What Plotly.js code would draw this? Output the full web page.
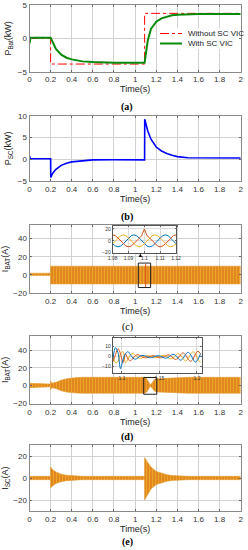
<!DOCTYPE html>
<html><head><meta charset="utf-8">
<script src="https://cdn.plot.ly/plotly-3.0.1.min.js"></script>
<style>html,body{margin:0;padding:0;background:#fff;} #chart{width:248px;height:550px;}</style>
</head><body><div id="chart"></div>
<script>
// ---------------- data ----------------
const timeTicks = [0, 0.2, 0.4, 0.6, 0.8, 1, 1.2, 1.4, 1.6, 1.8, 2];
const timeTickText = ['0', '0.2', '0.4', '0.6', '0.8', '1', '1.2', '1.4', '1.6', '1.8', '2'];

// (a) battery power, kW
const seriesNames = ['Without SC VIC', 'With SC VIC'];
const pbatNoVicT = [0, 0.2, 0.2, 1.09, 1.09, 2.0];
const pbatNoVic  = [0, 0, -3.85, -3.85, 3.75, 3.75];
const pbatVicT = [0, 0.003, 0.01, 0.2, 0.22, 0.25, 0.3, 0.35, 0.4, 0.45, 0.5, 0.6, 0.7, 0.8, 1.09, 1.1, 1.12, 1.15, 1.2, 1.25, 1.3, 1.35, 1.4, 1.5, 1.6, 2.0];
const pbatVic  = [-0.8, -0.3, 0.1, 0.1, -0.7, -1.6, -2.45, -2.9, -3.15, -3.35, -3.45, -3.55, -3.62, -3.65, -3.65, -2.2, -0.3, 1.4, 2.5, 3.0, 3.26, 3.45, 3.55, 3.62, 3.65, 3.65];

// (b) supercapacitor power, kW
const pscT = [0, 0.003, 0.01, 0.2, 0.201, 0.22, 0.25, 0.3, 0.35, 0.4, 0.5, 0.6, 0.8, 1.09, 1.091, 1.12, 1.15, 1.2, 1.25, 1.3, 1.35, 1.4, 1.5, 1.7, 2.0];
const psc  = [0.7, 0.2, 0.1, 0.1, -4.2, -3.2, -2.3, -1.4, -0.9, -0.6, -0.3, -0.15, -0.1, -0.15, 9.2, 6.5, 4.6, 2.8, 1.9, 1.3, 0.9, 0.6, 0.35, 0.3, 0.3];

// (c) battery current envelope (without SC VIC), A
const ibatC_T  = [0, 0.199, 0.2, 2.0];
const ibatC_Up = [1.8, 1.8, 9.5, 9.5];
const ibatC_Lo = [-0.6, -0.6, -10, -10];
const ibatC_spikeT = [0, 0];
const ibatC_spikeRed = [0, 52];
const ibatC_spikeYel = [0, -18];
const ibatC_eventT = [1.1, 1.1];
const ibatC_event  = [12, -14];

// (c) inset: three-phase currents 1.08-1.12 s
const insetC_T = [1.08, 1.0817, 1.0833, 1.085, 1.0867, 1.0883, 1.09, 1.0917, 1.0933, 1.095, 1.0967, 1.0983, 1.1, 1.1017, 1.1033, 1.105, 1.1067, 1.1083, 1.11, 1.1117, 1.1133, 1.115, 1.1167, 1.1183, 1.12];
const insetC_Red = [10, 8.7, 5, 0, -5, -8.7, -10, -8.7, -5, 0, 5, 8.7, 20, 8.7, 5, 0, -5, -8.7, -10, -8.7, -5, 0, 5, 8.7, 10];
const insetC_Blue = [-5, -8.7, -10, -8.7, -5, 0, 5, 8.7, 10, 8.7, 5, 0, -5, -8.7, -10, -8.7, -5, 0, 5, 8.7, 10, 8.7, 5, 0, -5];
const insetC_Yel = [-5, 0, 5, 8.7, 10, 8.7, 5, 0, -5, -8.7, -10, -8.7, -5, 0, 5, 8.7, 10, 8.7, 5, 0, -5, -8.7, -10, -8.7, -5];

// (d) battery current envelope (with SC VIC), A
const ibatD_T  = [0, 0.1, 0.199, 0.2, 0.21, 0.25, 0.3, 0.35, 0.4, 0.45, 0.5, 1.09, 1.11, 1.13, 1.145, 1.16, 1.18, 1.2, 1.3, 1.4, 1.5, 2.0];
const ibatD_Up = [2.5, 2, 1.5, 5, 2.5, 3.5, 6, 7.5, 8.5, 9, 9.2, 9.2, 7.5, 3, 0.5, 3, 6, 7.5, 8.3, 8.8, 9.2, 9.2];
const ibatD_Lo = [-2.5, -2, -1.5, -5, -2.5, -3.5, -6, -7.5, -8.3, -8.7, -8.8, -8.8, -7.5, -3, -0.5, -3, -6, -7.3, -8, -8.5, -8.8, -8.8];
const ibatD_spikeT = [0, 0];
const ibatD_spikeRed = [0, 23];
const ibatD_spikeYel = [0, -20];

// (d) inset: three-phase currents 1.088-1.205 s
const insetD_T = [1.088, 1.0913, 1.0947, 1.098, 1.1013, 1.1047, 1.108, 1.1113, 1.1147, 1.118, 1.1213, 1.1247, 1.128, 1.1313, 1.1347, 1.138, 1.1413, 1.1447, 1.148, 1.1513, 1.1547, 1.158, 1.1613, 1.1647, 1.168, 1.1713, 1.1747, 1.178, 1.1813, 1.1847, 1.188, 1.1913, 1.1947, 1.198, 1.2013, 1.2047];
const insetD_Red = [-5, 2, 8, 3, -6, 3, -2.5, -4, -1.5, 1.25, 2, 0.8, -0.65, -1.1, -0.5, 0.5, 1, 0.5, -0.5, -1.1, -0.65, 0.75, 1.8, 1.05, -1.2, -2.8, -1.55, 1.75, 3.8, 2.05, -2.2, -4.7, -2.5, 2.65, 5.5, 2.9];
const insetD_Blue = [-2, 9, 4, -12, -3, 3, 5, 2, -1.5, -2.5, -1, 0.8, 1.3, 0.55, -0.5, -1, -0.5, 0.5, 1, 0.55, -0.65, -1.5, -0.9, 1.05, 2.4, 1.4, -1.55, -3.5, -1.9, 2.05, 4.4, 2.35, -2.5, -5.3, -2.75, 2.9];
const insetD_Yel = [4, -6, -5, 3, 5, -6, -2.5, 2, 3, 1.25, -1, -1.6, -0.65, 0.55, 1, 0.5, -0.5, -1, -0.5, 0.55, 1.3, 0.75, -0.9, -2.1, -1.2, 1.4, 3.1, 1.75, -1.9, -4.1, -2.2, 2.35, 5, 2.65, -2.75, -5.8];

// (e) supercapacitor current envelope, A
const iscE_T  = [0, 0.199, 0.2, 0.22, 0.25, 0.3, 0.35, 0.4, 0.45, 0.5, 1.089, 1.09, 1.12, 1.15, 1.2, 1.25, 1.3, 1.35, 1.4, 1.45, 1.5, 2.0];
const iscE_Up = [1.5, 1.5, 10, 7.5, 5.5, 3.5, 2.5, 2, 1.6, 1.5, 1.5, 18.5, 14, 10, 6, 4.3, 3, 2.2, 1.8, 1.6, 1.5, 1.5];
const iscE_Lo = [-1.5, -1.5, -9, -7, -5, -3.3, -2.4, -1.9, -1.6, -1.5, -1.5, -20, -15, -10, -6, -4.3, -3, -2.2, -1.8, -1.6, -1.5, -1.5];
const iscE_spikeT = [0, 0];
const iscE_spikeRed = [0, 23];
const iscE_spikeYel = [0, -23];

// zoom windows [x0, x1, y0, y1] and arrows [x, yTail, yHead]
const zoomBoxC = [1.03, 1.147, -14, 13];
const zoomBoxD = [1.081, 1.205, -10, 9];
const arrowC = [1.05, 13, 23.5];
const arrowD = [1.144, 9, 15];

// ---------------- styling ----------------
const W = 248, H = 550;
const C_BLUE = '#0072BD', C_RED = '#D95319', C_YEL = '#EDB120';
const C_NOVIC = '#FF0000', C_VIC = '#0A8A0A';
const FONT = 'Liberation Sans, Arial, sans-serif';
const tickFont = {family: FONT, size: 8, color: '#333'};
const titleFont = {family: FONT, size: 9, color: '#222'};
const xDom = [0.119, 0.9706];

function mainX(anchor, dom, tv, tt) {
  return {domain: dom, anchor: anchor, range: [0, 2], tickvals: tv, ticktext: tt,
    ticks: 'inside', ticklen: 2, tickcolor: '#666', showline: true, mirror: 'ticks',
    linecolor: '#8a8a8a', linewidth: 1, showgrid: true, gridcolor: '#d2d2d2', gridwidth: 1,
    zeroline: false, tickfont: tickFont, fixedrange: true,
    title: {text: 'Time(s)', font: titleFont, standoff: 1}};
}
function mainY(anchor, dom, range, tv, title) {
  return {domain: dom, anchor: anchor, range: range, tickvals: tv,
    ticks: 'inside', ticklen: 2, tickcolor: '#666', showline: true, mirror: 'ticks',
    linecolor: '#8a8a8a', linewidth: 1, showgrid: true, gridcolor: '#d2d2d2', gridwidth: 1,
    zeroline: false, tickfont: tickFont, fixedrange: true,
    title: {text: title, font: titleFont, standoff: 4}};
}
function insetAxis(anchor, dom, range, tv, tt) {
  const a = {domain: dom, anchor: anchor, range: range, tickvals: tv,
    ticks: 'inside', ticklen: 1.5, tickcolor: '#666', showline: true, mirror: 'ticks',
    linecolor: '#555', linewidth: 1, showgrid: true, gridcolor: '#dcdcdc', gridwidth: 1,
    zeroline: false, tickfont: {family: FONT, size: 5, color: '#333'}, fixedrange: true};
  if (tt) a.ticktext = tt;
  return a;
}

function line(x, y, xa, ya, color, width, extra) {
  return Object.assign({type: 'scatter', mode: 'lines', x: x, y: y, xaxis: xa, yaxis: ya,
    line: {color: color, width: width}, showlegend: false, hoverinfo: 'skip'}, extra || {});
}
function band(t, lo, up, xa, ya) {
  return [
    line(t, lo, xa, ya, '#E39A2C', 0.6),
    line(t, up, xa, ya, '#E39A2C', 0.6, {fill: 'tonexty', fillcolor: '#EDA52A',
      fillpattern: {shape: '|', fgcolor: '#D8681C', bgcolor: '#EFB226', size: 3, solidity: 0.45}})
  ];
}

const traces = [];
// (a)
traces.push(line(pbatNoVicT, pbatNoVic, 'x', 'y', C_NOVIC, 1, {name: seriesNames[0], line: {color: C_NOVIC, width: 1, dash: 'dashdot'}}));
traces.push(line(pbatVicT, pbatVic, 'x', 'y', C_VIC, 2, {name: seriesNames[1]}));
// (b)
traces.push(line(pscT, psc, 'x2', 'y2', '#0000FF', 1.6));
// (c)
traces.push(...band(ibatC_T, ibatC_Lo, ibatC_Up, 'x3', 'y3'));
traces.push(line(ibatC_spikeT, ibatC_spikeRed, 'x3', 'y3', C_RED, 1));
traces.push(line(ibatC_spikeT, ibatC_spikeYel, 'x3', 'y3', C_YEL, 1));
traces.push(line(ibatC_eventT, ibatC_event, 'x3', 'y3', C_RED, 1));
// (d)
traces.push(...band(ibatD_T, ibatD_Lo, ibatD_Up, 'x4', 'y4'));
traces.push(line(ibatD_spikeT, ibatD_spikeRed, 'x4', 'y4', C_RED, 1));
traces.push(line(ibatD_spikeT, ibatD_spikeYel, 'x4', 'y4', C_YEL, 1));
// (e)
traces.push(...band(iscE_T, iscE_Lo, iscE_Up, 'x5', 'y5'));
traces.push(line(iscE_spikeT, iscE_spikeRed, 'x5', 'y5', C_RED, 1));
traces.push(line(iscE_spikeT, iscE_spikeYel, 'x5', 'y5', C_YEL, 1));
// inset (c)
traces.push(line(insetC_T, insetC_Blue, 'x6', 'y6', C_BLUE, 1));
traces.push(line(insetC_T, insetC_Yel, 'x6', 'y6', C_YEL, 1));
traces.push(line(insetC_T, insetC_Red, 'x6', 'y6', C_RED, 1));
// inset (d)
traces.push(line(insetD_T, insetD_Yel, 'x7', 'y7', C_YEL, 1, {line: {color: C_YEL, width: 1, shape: 'spline'}}));
traces.push(line(insetD_T, insetD_Red, 'x7', 'y7', C_RED, 1, {line: {color: C_RED, width: 1, shape: 'spline'}}));
traces.push(line(insetD_T, insetD_Blue, 'x7', 'y7', C_BLUE, 1, {line: {color: C_BLUE, width: 1, shape: 'spline'}}));

const capFont = {family: 'Liberation Serif, Times New Roman, serif', size: 10, color: '#000'};
function caption(text, yPx, bold) {
  return {xref: 'paper', yref: 'paper', x: 0.514, y: 1 - yPx / H, xanchor: 'center', yanchor: 'middle',
    text: bold ? '<b>' + text + '</b>' : text, showarrow: false, font: capFont};
}
function arrow(arr, xa, ya) {
  return {xref: xa, yref: ya, axref: xa, ayref: ya, x: arr[0], y: arr[2], ax: arr[0], ay: arr[1],
    showarrow: true, arrowhead: 2, arrowsize: 0.7, arrowwidth: 1, arrowcolor: '#000', text: ' '};
}
function box(b, xa, ya) {
  return {type: 'rect', xref: xa, yref: ya, x0: b[0], x1: b[1], y0: b[2], y1: b[3],
    line: {color: '#222', width: 1}, fillcolor: 'rgba(0,0,0,0)', layer: 'above'};
}
// hand-drawn legend (paper pixel positions)
function px(x) { return x / W; }
function py(y) { return 1 - y / H; }
const legendShapes = [
  {type: 'rect', xref: 'paper', yref: 'paper', x0: px(157), x1: px(239), y0: py(49), y1: py(28),
    fillcolor: '#fff', line: {width: 0}, layer: 'above'},
  {type: 'line', xref: 'paper', yref: 'paper', x0: px(160), x1: px(182), y0: py(33.5), y1: py(33.5),
    line: {color: C_NOVIC, width: 1.2, dash: 'dashdot'}, layer: 'above'},
  {type: 'line', xref: 'paper', yref: 'paper', x0: px(160), x1: px(182), y0: py(43.5), y1: py(43.5),
    line: {color: C_VIC, width: 2}, layer: 'above'}
];
const legendText = [
  {xref: 'paper', yref: 'paper', x: px(186), y: py(33.5), xanchor: 'left', yanchor: 'middle',
    text: seriesNames[0], showarrow: false, font: {family: FONT, size: 8, color: '#222'}},
  {xref: 'paper', yref: 'paper', x: px(186), y: py(43.5), xanchor: 'left', yanchor: 'middle',
    text: seriesNames[1], showarrow: false, font: {family: FONT, size: 8, color: '#222'}}
];

const layout = {
  width: W, height: H, margin: {l: 0, r: 0, t: 0, b: 0},
  paper_bgcolor: '#fff', plot_bgcolor: '#fff', font: {family: FONT},
  showlegend: false,
  xaxis: mainX('y', xDom, timeTicks, timeTickText),
  yaxis: mainY('x', [0.8696, 0.9909], [-5, 5], [-5, 0, 5], 'P<sub>Bat</sub>(kW)'),
  xaxis2: mainX('y2', xDom, timeTicks, timeTickText),
  yaxis2: mainY('x2', [0.6709, 0.7896], [-5, 10], [-5, 0, 5, 10], 'P<sub>SC</sub>(kW)'),
  xaxis3: mainX('y3', xDom, timeTicks.slice(1), timeTickText.slice(1)),
  yaxis3: mainY('x3', [0.4673, 0.5909], [-20, 55], [-20, 0, 20, 40], 'I<sub>BAT</sub>(A)'),
  xaxis4: mainX('y4', xDom, timeTicks, timeTickText),
  yaxis4: mainY('x4', [0.2655, 0.3891], [-21, 56], [-20, 0, 20, 40], 'I<sub>BAT</sub>(A)'),
  xaxis5: mainX('y5', xDom, timeTicks, timeTickText),
  yaxis5: mainY('x5', [0.0709, 0.1909], [-30, 30], [-20, 0, 20], 'I<sub>SC</sub>(A)'),
  xaxis6: insetAxis('y6', [0.4544, 0.7097], [1.08, 1.12], [1.08, 1.09, 1.1, 1.11, 1.12], ['1.08', '1.09', '1.1', '1.11', '1.12']),
  yaxis6: insetAxis('x6', [0.5405, 0.5891], [-20, 25], [-20, 0, 20]),
  xaxis7: insetAxis('y7', [0.4544, 0.8133], [1.0876, 1.2063], [1.1, 1.15, 1.2], ['1.1', '1.15', '1.2']),
  yaxis7: insetAxis('x7', [0.3224, 0.3860], [-16, 19], [-10, 0, 10]),
  shapes: [box(zoomBoxC, 'x3', 'y3'), box(zoomBoxD, 'x4', 'y4')].concat(legendShapes),
  annotations: [
    caption('(a)', 107, true), caption('(b)', 217, true), caption('(c)', 327, false),
    caption('(d)', 437, true), caption('(e)', 542, true),
    arrow(arrowC, 'x3', 'y3'), arrow(arrowD, 'x4', 'y4')
  ].concat(legendText)
};

Plotly.newPlot('chart', traces, layout, {staticPlot: true, displayModeBar: false});
</script>
</body></html>
